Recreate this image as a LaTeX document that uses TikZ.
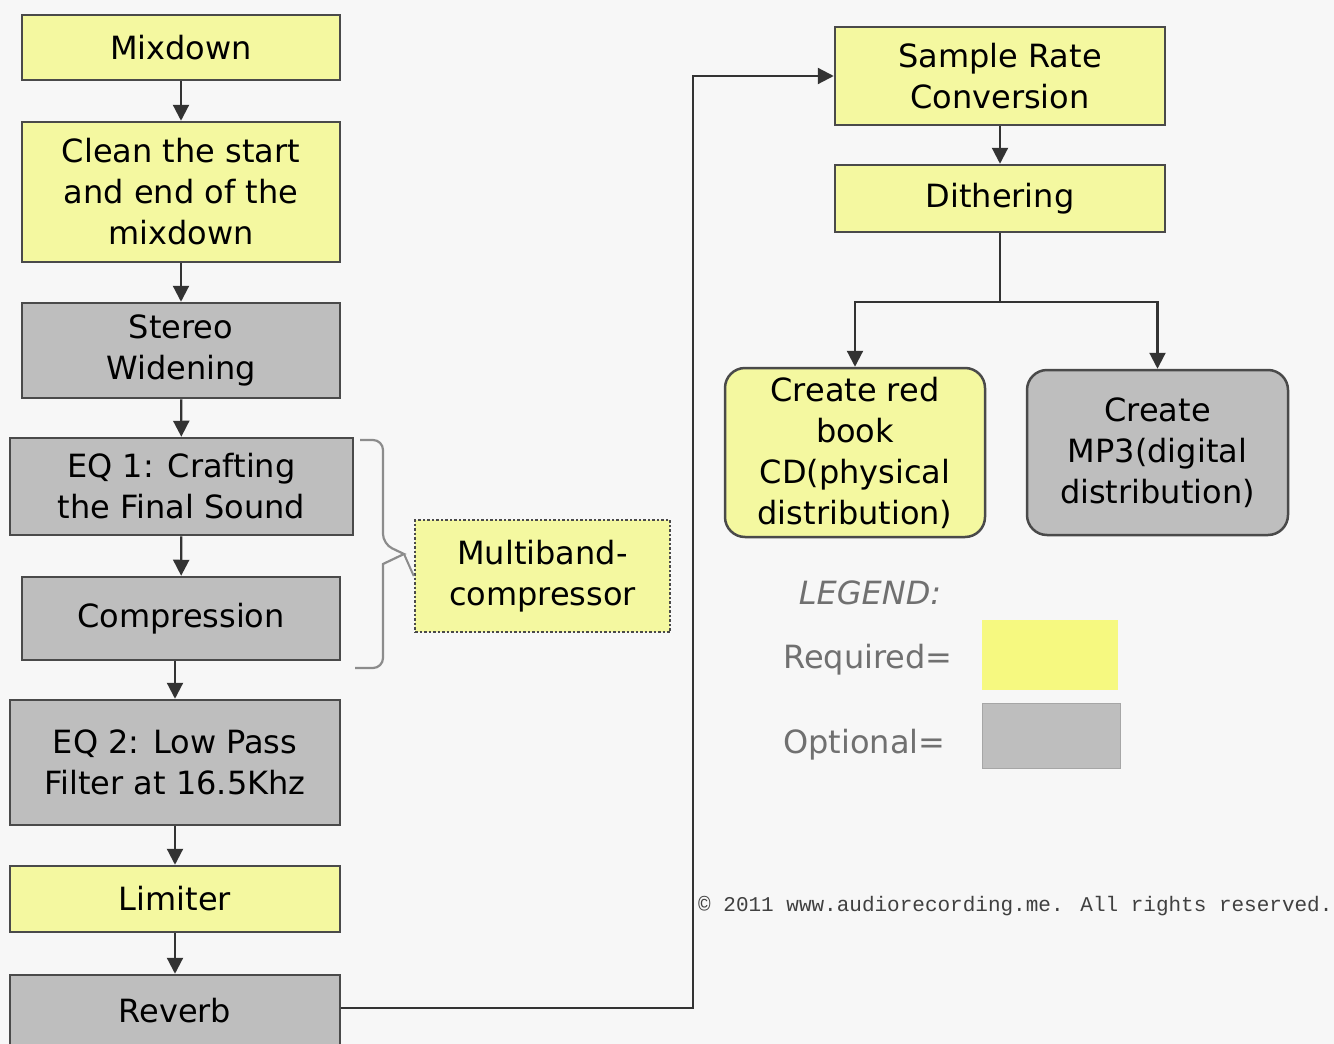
\documentclass[tikz,border=0pt]{standalone}
\usepackage{fontspec}
\setmainfont{DejaVu Sans}
\newfontfamily\copyfont{Liberation Mono}
\usetikzlibrary{arrows.meta}
\definecolor{bgc}{HTML}{F7F7F7}
\definecolor{yfill}{HTML}{F4F8A0}
\definecolor{gfill}{HTML}{BEBEBE}
\definecolor{edge}{HTML}{4A4A4A}
\definecolor{legtext}{HTML}{707070}
\tikzset{
  box/.style={draw=edge, line width=2.5pt, align=center, inner sep=0pt,
    font=\fontsize{32}{41}\selectfont, text=black},
  req/.style={box, fill=yfill},
  opt/.style={box, fill=gfill},
  arr/.style={draw=black!80, line width=2.2pt, -{Triangle[length=16pt,width=16pt]}},
  plain/.style={draw=black!80, line width=2.2pt},
  bracket/.style={draw=black!45, line width=2.2pt, rounded corners=10pt},
  legendtxt/.style={font=\fontsize{32}{41}\selectfont, text=legtext, inner sep=0pt}
}
\begin{document}
\begin{tikzpicture}[x=1pt,y=-1pt]
\fill[bgc] (0,0) rectangle (1334,1044);
\useasboundingbox (0,0) rectangle (1334,1044);
% left column
\node[req, minimum width=318pt, minimum height=65pt] (mix) at (181,47.5) {Mixdown};
\node[req, minimum width=318pt, minimum height=140pt] (clean) at (181,192) {Clean the start\\and end of the\\mixdown};
\node[opt, minimum width=318pt, minimum height=95pt] (stereo) at (181,350.5) {Stereo\\Widening};
\node[opt, minimum width=343pt, minimum height=97pt] (eq1) at (181.5,486.5) {EQ 1: Crafting\\the Final Sound};
\node[opt, minimum width=318pt, minimum height=83pt] (comp) at (181,618.5) {Compression};
\node[opt, minimum width=330pt, minimum height=125pt] (eq2) at (175,762.5) {EQ 2: Low Pass\\Filter at 16.5Khz};
\node[req, minimum width=330pt, minimum height=66pt] (lim) at (175,899) {Limiter};
\node[opt, minimum width=330pt, minimum height=72pt] (rev) at (175,1011) {Reverb};
% multiband
\node[box, fill=yfill, dotted, line width=2.5pt, minimum width=255pt, minimum height=112pt] (multi) at (542.5,576) {Multiband-\\compressor};
% right column
\node[req, minimum width=330pt, minimum height=98pt] (src) at (1000,76) {Sample Rate\\Conversion};
\node[req, minimum width=330pt, minimum height=67pt] (dith) at (1000,198.5) {Dithering};
\node[req, rounded corners=20pt, minimum width=260pt, minimum height=169pt] (cd) at (855,452.5) {Create red\\book\\CD(physical\\distribution)};
\node[opt, rounded corners=20pt, minimum width=261pt, minimum height=165pt] (mp3) at (1157.5,452.5) {Create\\MP3(digital\\distribution)};
% arrows left column
\draw[arr] (mix) -- (clean);
\draw[arr] (clean) -- (stereo);
\draw[arr] (stereo) -- (eq1);
\draw[arr] (eq1) -- (comp);
\draw[arr] (comp.south -| eq2.north) -- (eq2.north);
\draw[arr] (eq2) -- (lim);
\draw[arr] (lim) -- (rev);
% reverb to sample rate conversion
\coordinate (turn) at (693,1008);
\draw[arr] (rev.east |- turn) -- (turn) |- (src.west);
% right column arrows
\draw[arr] (src) -- (dith);
\coordinate (split) at (1000,302);
\draw[plain] (dith.south) -- (split);
\draw[arr] (split) -| (cd.north);
\draw[arr] (split) -| (mp3.north);
% bracket
\coordinate (btop) at (360,440);
\coordinate (bbot) at (355,668);
\coordinate (tip) at (404,554);
\draw[bracket] (btop) -| (383,544) [sharp corners] -- (tip) -- (383,564) [rounded corners=10pt] |- (bbot);
\draw[draw=black!45, line width=2pt] (tip) -- (multi.west);
% legend
\node[legendtxt, font=\fontsize{32}{41}\selectfont\itshape] (leg) at (870,593) {LEGEND:};
\node[legendtxt, anchor=west] (reqt) at (783,660) {Required=};
\node[legendtxt, anchor=west] (optt) at (783,745) {Optional=};
\node[fill=yfill!80!yellow, minimum width=136pt, minimum height=70pt, inner sep=0pt] (reqbox) at (1050,655) {};
\node[fill=gfill, draw=black!35, line width=1pt, minimum width=138pt, minimum height=65pt, inner sep=0pt] (optbox) at (1051,735.5) {};
% copyright
\node[anchor=west, inner sep=0pt, text=black!75, font=\copyfont\fontsize{21}{24}\selectfont] (copy) at (698,906) {© 2011 www.audiorecording.me. All rights reserved.};
\end{tikzpicture}
\end{document}
